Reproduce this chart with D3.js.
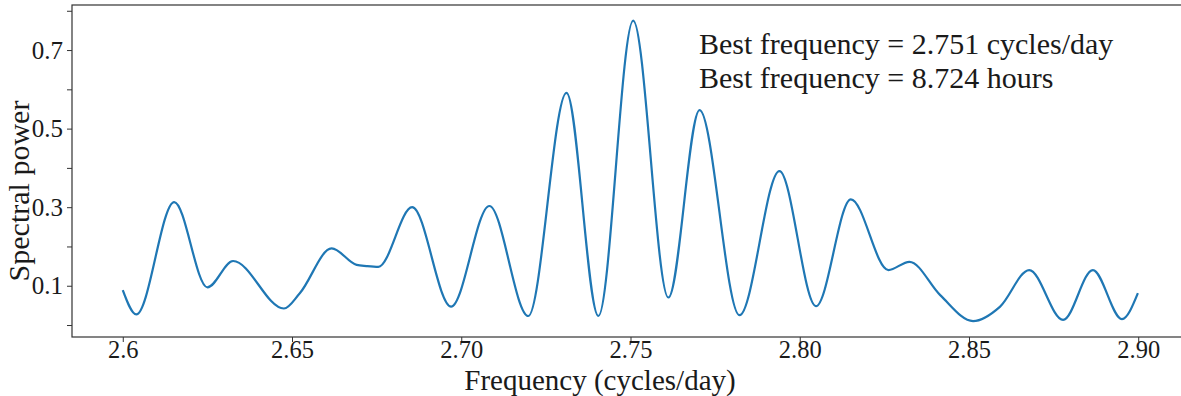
<!DOCTYPE html>
<html>
<head>
<meta charset="utf-8">
<script src="https://cdn.jsdelivr.net/npm/d3@7"></script>
<style>
  body { margin: 0; background: #fff; }
  text { font-family: "Liberation Serif", "DejaVu Serif", serif; fill: #1a1a1a; }
</style>
</head>
<body>
<div id="chart"></div>
<script>
// Periodogram (frequency in cycles/day, spectral power)
let freq = [2.6000, 2.6040, 2.6152, 2.6250, 2.6326, 2.6476, 2.6523, 2.6617, 2.6691, 2.6720,
            2.6755, 2.6855, 2.6970, 2.7083, 2.7198, 2.7311, 2.7405, 2.7508, 2.7612, 2.7704,
            2.7822, 2.7940, 2.8048, 2.8151, 2.8262, 2.8324, 2.8415, 2.8512, 2.8592, 2.8678,
            2.8778, 2.8866, 2.8952, 2.8999];
let power = [0.089, 0.027, 0.313, 0.096, 0.163, 0.042, 0.081, 0.195, 0.153, 0.150,
             0.148, 0.300, 0.047, 0.303, 0.023, 0.591, 0.023, 0.775, 0.070, 0.547,
             0.025, 0.392, 0.048, 0.320, 0.140, 0.161, 0.076, 0.010, 0.047, 0.140,
             0.013, 0.140, 0.015, 0.081];

let xTicks = [2.60, 2.65, 2.70, 2.75, 2.80, 2.85, 2.90];
let xTickLabels = ["2.6", "2.65", "2.70", "2.75", "2.80", "2.85", "2.90"];
let yTicks = [0.0, 0.1, 0.2, 0.3, 0.4, 0.5, 0.6, 0.7, 0.8];
let yTickLabels = ["", "0.1", "", "0.3", "", "0.5", "", "0.7", ""];
let notes = ["Best frequency = 2.751 cycles/day", "Best frequency = 8.724 hours"];

let W = 1181, H = 396;
let dim = { top: 5, left: 72, bottom: 337, right: 1189 };

let svg = d3.select("#chart")
  .append("svg")
  .attr("width", W)
  .attr("height", H);

// Scales (matplotlib-like 5% margins)
let x = d3.scaleLinear()
  .domain([2.585, 2.915])
  .range([dim.left, dim.right]);

let y = d3.scaleLinear()
  .domain([-0.0305, 0.8147])
  .range([dim.bottom, dim.top]);

// X axis
let xAxis = svg.append("g")
  .attr("transform", "translate(0," + dim.bottom + ")")
  .call(d3.axisBottom(x)
    .tickValues(xTicks)
    .tickFormat((d, i) => xTickLabels[i])
    .tickSize(5)
    .tickPadding(-1));
xAxis.select(".domain").remove();
xAxis.selectAll("text").attr("font-size", "24.5px").attr("fill", "#1a1a1a");
xAxis.selectAll("line").attr("stroke", "#333");

// Y axis
let yAxis = svg.append("g")
  .attr("transform", "translate(" + dim.left + ",0)")
  .call(d3.axisLeft(y)
    .tickValues(yTicks)
    .tickFormat((d, i) => yTickLabels[i])
    .tickSize(5)
    .tickPadding(4));
yAxis.select(".domain").remove();
yAxis.selectAll("text").attr("font-size", "25px").attr("fill", "#1a1a1a");
yAxis.selectAll("line").attr("stroke", "#333");

// Frame
svg.append("rect")
  .attr("x", dim.left)
  .attr("y", dim.top)
  .attr("width", dim.right - dim.left)
  .attr("height", dim.bottom - dim.top)
  .attr("fill", "none")
  .attr("stroke", "#333")
  .attr("stroke-width", 1.2);

// Curve
let pts = freq.map((f, i) => [f, power[i]]);
let line = d3.line()
  .x(d => x(d[0]))
  .y(d => y(d[1]))
  .curve(d3.curveMonotoneX);

svg.append("path")
  .datum(pts)
  .attr("d", line)
  .attr("fill", "none")
  .attr("stroke", "#1f77b4")
  .attr("stroke-width", 2.2);

// Annotation
svg.selectAll(".note")
  .data(notes)
  .enter()
  .append("text")
  .attr("class", "note")
  .attr("x", 699)
  .attr("y", (d, i) => 54 + i * 34)
  .attr("font-size", "30px")
  .text(d => d);

// Labels
svg.append("text")
  .attr("text-anchor", "middle")
  .attr("x", 600)
  .attr("y", 390)
  .attr("font-size", "29px")
  .text("Frequency (cycles/day)");

svg.append("text")
  .attr("text-anchor", "middle")
  .attr("transform", "translate(29,191) rotate(-90)")
  .attr("font-size", "30px")
  .text("Spectral power");
</script>
</body>
</html>
